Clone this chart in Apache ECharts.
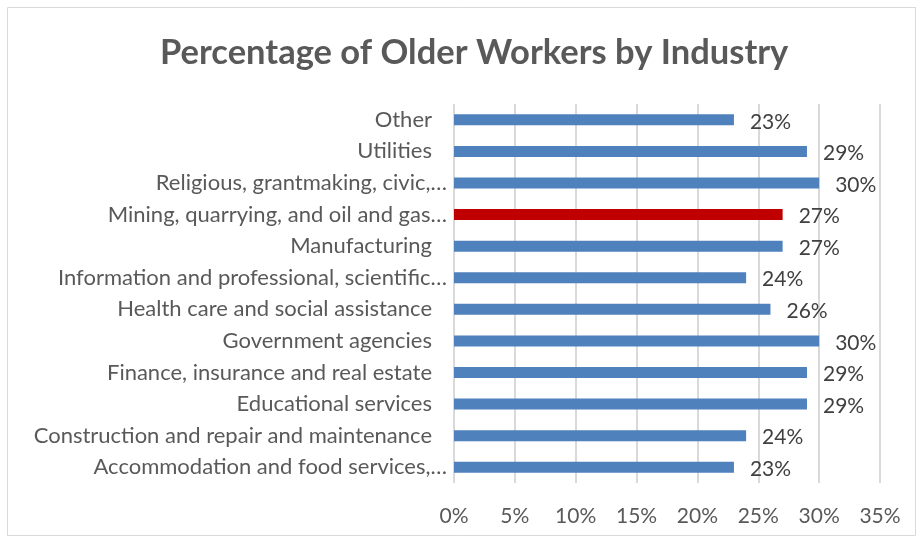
<!DOCTYPE html>
<html>
<head>
<meta charset="utf-8">
<script src="https://cdn.jsdelivr.net/npm/echarts@6/dist/echarts.min.js"></script>
<style>
html,body{margin:0;padding:0;background:#fff;}
#main{width:918px;height:540px;}
</style>
</head>
<body>
<div id="main"></div>
<script>
const titleText = 'Percentage of Older Workers by Industry';
const categories = [
  'Accommodation and food services,…',
  'Construction and repair and maintenance',
  'Educational services',
  'Finance, insurance and real estate',
  'Government agencies',
  'Health care and social assistance',
  'Information and professional, scientific…',
  'Manufacturing',
  'Mining, quarrying, and oil and gas…',
  'Religious, grantmaking, civic,…',
  'Utilities',
  'Other'
];
const values = [23, 24, 29, 29, 30, 26, 24, 27, 27, 30, 29, 23];
const highlighted = ['Mining, quarrying, and oil and gas…'];
const xTicks = [0, 5, 10, 15, 20, 25, 30, 35];

const chart = echarts.init(document.getElementById('main'));
const font = 'Lato, "Open Sans", sans-serif';
chart.setOption({
  animation: false,
  graphic: [{
    type: 'rect',
    shape: {x: 7.5, y: 7.5, width: 908, height: 528},
    style: {fill: 'none', stroke: '#d9d9d9', lineWidth: 1},
    z: -1
  }],
  title: {
    text: titleText,
    left: 155,
    top: 30,
    textStyle: {fontFamily: font, fontWeight: 'bold', fontSize: 34.5, color: '#595959'}
  },
  grid: {left: 454, right: 38, top: 104, bottom: 57},
  xAxis: {
    type: 'value',
    min: xTicks[0],
    max: xTicks[xTicks.length - 1],
    interval: 5,
    axisLine: {show: false},
    axisTick: {show: false},
    splitLine: {lineStyle: {color: '#d9d9d9', width: 2}},
    axisLabel: {
      formatter: v => v + '%',
      fontFamily: font, fontSize: 21, color: '#595959', margin: 23
    }
  },
  yAxis: {
    type: 'category',
    data: categories,
    axisLine: {show: false},
    axisTick: {show: false},
    axisLabel: {
      fontFamily: font, fontSize: 22, color: '#595959', margin: 7,
      formatter: v => v.endsWith('…') ? v : '{p|' + v + '}',
      rich: {p: {fontFamily: font, fontSize: 22, color: '#595959', padding: [0, 15, 0, 0]}}
    }
  },
  series: [{
    type: 'bar',
    data: categories.map((c, i) => ({
      value: values[i],
      itemStyle: {color: highlighted.includes(c) ? '#c00000' : '#4f81bd'}
    })),
    barWidth: 11,
    label: {
      show: true,
      position: 'right',
      distance: 16,
      formatter: p => p.value + '%',
      fontFamily: font, fontSize: 21, color: '#404040', offset: [0, 2]
    }
  }]
});
</script>
</body>
</html>
